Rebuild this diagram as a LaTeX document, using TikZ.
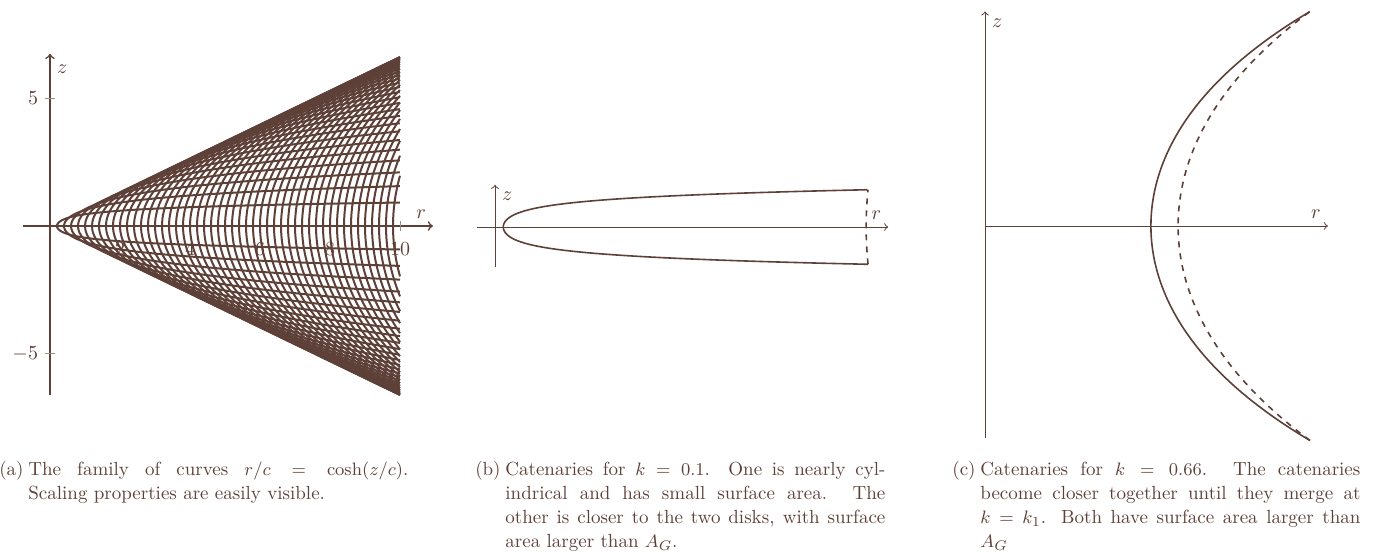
\documentclass[tikz,border=0pt]{standalone}
\usepackage{amsmath}
\definecolor{catbrown}{HTML}{5D4037}

\begin{document}
\begin{tikzpicture}[x=0.5pt,y=0.5pt,color=catbrown,
    axis/.style={->,line width=0.5pt},
    tickmark/.style={line width=0.4pt,catbrown!60},
    catenary/.style={line width=0.8pt},
    caption/.style={anchor=north west,inner sep=0pt,text width=190pt,align=justify,
        font=\fontsize{9.5}{12}\selectfont},
    sublabel/.style={anchor=north east,inner sep=0pt,font=\fontsize{9.5}{12}\selectfont}]

    \useasboundingbox (0,0) rectangle (1380,553);

    % (a) Family r/c = cosh(z/c)
    \begin{scope}[shift={(50,327)},x=17.5pt,y=12.75pt]
        % Axes
        \draw[axis,thick] (-0.77,0) -- (10.94,0) coordinate (ra);
        \draw[axis,thick] (0,-6.63) -- (0,6.75) coordinate (za);
        \node[above left] (rlaba) at (ra) {$r$};
        \node[below right,yshift=-2pt] (zlaba) at (za) {$z$};

        % Ticks
        \foreach \rt in {2,4,6,8,10}{
            \draw[tickmark] (\rt,-0.2) -- (\rt,0.2);
            \node[below,yshift=-2pt] (rtick\rt) at (\rt,-0.2) {$\rt$};
        }
        \foreach \zt/\zn in {-5/m,5/p}{
            \draw[tickmark] (-0.14,\zt) -- (0.14,\zt);
            \node[left] (ztick\zn) at (-0.14,\zt) {$\zt$};
        }

        % Curves for c = 0.2, 0.4, ..., 9.8
        \foreach \i in {1,...,49}{
            \pgfmathsetmacro\cc{0.2*\i}
            \pgfmathsetmacro\tm{ln(10/\cc+sqrt((10/\cc)^2-1))}
            \draw[catenary,line width=1pt] plot[domain=-\tm:\tm,samples=41,smooth,variable=\u]
                ({\cc*cosh(\u)},{\cc*\u});
        }
    \end{scope}

    % (b) k = 0.1
    \begin{scope}[shift={(495,326)},x=186.5pt,y=186.5pt]
        \def\ca{0.022224}
        \def\ta{4.4996}
        \def\cb{0.99497}
        \def\hb{0.1}

        % Axes
        \draw[axis] (-0.048,0) -- (1.054,0) coordinate (rb);
        \draw[axis] (0,-0.107) -- (0,0.113) coordinate (zb);
        \node[above left] (rlabb) at (rb) {$r$};
        \node[below right] (zlabb) at (zb) {$z$};

        % Small catenary and nearly cylindrical one
        \draw[catenary] plot[domain=-\ta:\ta,samples=121,smooth,variable=\u]
            ({\ca*cosh(\u)},{\ca*\u});
        \draw[catenary,dashed] plot[domain=-\hb:\hb,samples=11,smooth,variable=\u]
            ({\cb*cosh(\u/\cb)},{\u});
    \end{scope}

    % (c) k = 0.66
    \begin{scope}[shift={(985,327)},x=162.5pt,y=162.5pt]
        \def\ca{0.5104}
        \def\ta{1.2931}
        \def\cb{0.5941}
        \def\tb{1.1109}

        % Axes
        \draw[axis] (0,0) -- (1.055,0) coordinate (rc);
        \draw[axis] (0,-0.652) -- (0,0.66) coordinate (zc);
        \node[above left] (rlabc) at (rc) {$r$};
        \node[below right] (zlabc) at (zc) {$z$};

        % The two catenaries
        \draw[catenary] plot[domain=-\ta:\ta,samples=61,smooth,variable=\u]
            ({\ca*cosh(\u)},{\ca*\u});
        \draw[catenary,dashed] plot[domain=-\tb:\tb,samples=61,smooth,variable=\u]
            ({\cb*cosh(\u)},{\cb*\u});
    \end{scope}

    % Captions
    \node[caption] (capa) at (28,95) {\strut The family of curves $r/c = \cosh(z/c)$.\linebreak
        Scaling properties are easily visible.};
    \node[sublabel] (laba) at ([xshift=-2pt]capa.north west) {\strut(a)};

    \node[caption] (capb) at (505,95) {\strut Catenaries for $k = 0.1$. One is nearly cyl-\linebreak
        indrical and has small surface area. The\linebreak
        other is closer to the two disks, with surface\linebreak
        area larger than $A_G$.};
    \node[sublabel] (labb) at ([xshift=-2pt]capb.north west) {\strut(b)};

    \node[caption] (capc) at (980,95) {\strut Catenaries for $k = 0.66$. The catenaries\linebreak
        become closer together until they merge at\linebreak
        $k = k_1$. Both have surface area larger than\linebreak
        $A_G$};
    \node[sublabel] (labc) at ([xshift=-2pt]capc.north west) {\strut(c)};

\end{tikzpicture}
\end{document}
